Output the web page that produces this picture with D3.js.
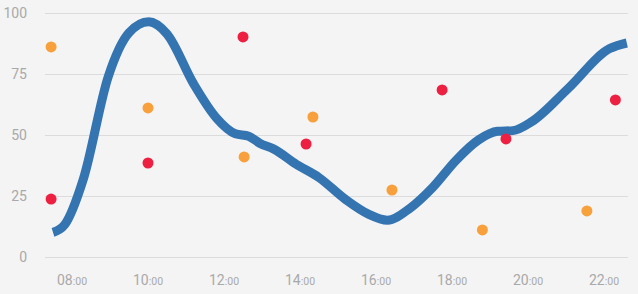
<!DOCTYPE html>
<html>
<head>
<meta charset="utf-8">
<script src="https://cdn.jsdelivr.net/npm/d3@7"></script>
<style>
  html, body { margin: 0; padding: 0; background: #f4f4f4; }
  svg { display: block; font-family: Roboto, "Noto Sans", sans-serif; }
</style>
</head>
<body>
<div id="chart"></div>
<script>
// line series (hour of day, value)
var lineHours = [7.5, 7.8, 8.3, 8.95, 9.5, 10.02, 10.5, 11.2, 11.8, 12.3, 12.65, 12.95, 13.3, 13.9, 14.5, 15.2, 15.8, 16.3, 16.9, 17.5, 18.1, 18.7, 19.2, 19.6, 20.1, 21.05, 22.15, 22.6];
var lineValues = [10, 13, 32, 73.8, 92, 96.5, 91.5, 71, 57, 50.5, 49.5, 46.5, 44.3, 38, 32.5, 23.5, 17.5, 15, 20, 28.6, 39.5, 48, 51.5, 51.8, 55.5, 69, 85.5, 87.8];

// red points
var redHours = [7.45, 10.0, 12.5, 14.16, 17.74, 19.42, 22.3];
var redValues = [23.7, 38.5, 90.3, 46.3, 68.5, 48.4, 64.4];

// orange points
var orangeHours = [7.45, 10.0, 12.53, 14.34, 16.42, 18.8, 21.55];
var orangeValues = [86.2, 61.1, 41, 57.4, 27.4, 11, 18.8];

var xTicks = [8, 10, 12, 14, 16, 18, 20, 22];
var yTicks = [0, 25, 50, 75, 100];

var width = 638, height = 294;

var svg = d3.select("#chart").append("svg")
	.attr("width", width)
	.attr("height", height);

var x = d3.scaleLinear().domain([7.5, 22.6]).range([53, 626.8]);
var y = d3.scaleLinear().domain([0, 100]).range([256.7, 13.3]);

// gridlines
svg.append("g")
	.selectAll("line")
	.data(yTicks)
	.enter()
	.append("line")
	.attr("x1", 45)
	.attr("x2", 628)
	.attr("y1", function(d) { return Math.round(y(d)) + 0.5; })
	.attr("y2", function(d) { return Math.round(y(d)) + 0.5; })
	.attr("stroke", "#dcdcdc")
	.attr("stroke-width", 1);

// y labels
svg.append("g")
	.selectAll("text")
	.data(yTicks)
	.enter()
	.append("text")
	.attr("x", 27)
	.attr("y", function(d) { return y(d) + 5; })
	.attr("text-anchor", "end")
	.attr("font-size", 14)
	.attr("fill", "#a9a9a9")
	.text(function(d) { return d; });

// x labels, hour big and minutes small
var xl = svg.append("g")
	.selectAll("text")
	.data(xTicks)
	.enter()
	.append("text")
	.attr("x", function(d) { return x(d); })
	.attr("y", 285)
	.attr("text-anchor", "middle")
	.attr("fill", "#a9a9a9");
xl.append("tspan")
	.attr("font-size", 14)
	.text(function(d) { return (d < 10 ? "0" : "") + d; });
xl.append("tspan")
	.attr("font-size", 10.5)
	.text(":00");

// line
var line = d3.line()
	.x(function(d) { return x(d[0]); })
	.y(function(d) { return y(d[1]); })
	.curve(d3.curveMonotoneX);

svg.append("path")
	.datum(d3.zip(lineHours, lineValues))
	.attr("d", line)
	.attr("fill", "none")
	.attr("stroke", "#3474b1")
	.attr("stroke-width", 9)
	.attr("stroke-linecap", "butt")
	.attr("stroke-linejoin", "round");

// points
function drawPoints(hours, values, color) {
	svg.append("g")
		.selectAll("circle")
		.data(d3.zip(hours, values))
		.enter()
		.append("circle")
		.attr("cx", function(d) { return x(d[0]); })
		.attr("cy", function(d) { return y(d[1]); })
		.attr("r", 5.5)
		.attr("fill", color);
}
drawPoints(orangeHours, orangeValues, "#f7a03c");
drawPoints(redHours, redValues, "#ee2042");
</script>
</body>
</html>
